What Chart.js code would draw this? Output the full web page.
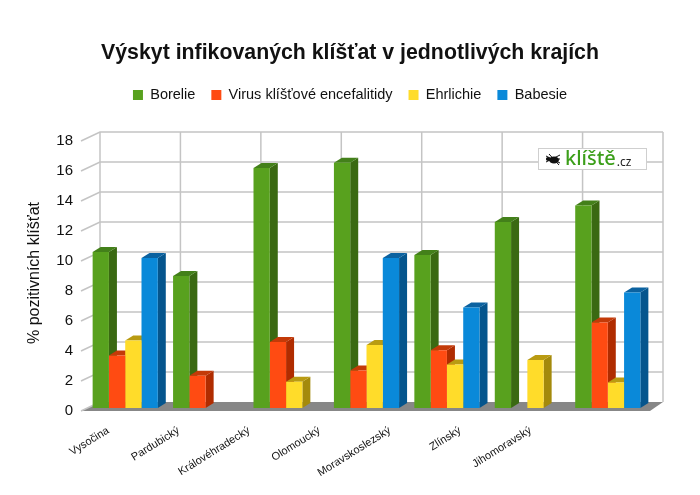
<!DOCTYPE html>
<html>
<head>
<meta charset="utf-8">
<script src="https://cdn.jsdelivr.net/npm/chart.js@4"></script>
<style>
body { margin: 0; background: #fff; }
canvas { display: block; }
</style>
</head>
<body>
<canvas id="graf" width="700" height="495"></canvas>
<script>
// data (% of positive ticks)
var regions = ["Vysočina", "Pardubický", "Královéhradecký", "Olomoucký", "Moravskoslezský", "Zlínský", "Jihomoravský"];
var borelie = [10.4, 8.8, 16.0, 16.35, 10.2, 12.4, 13.5];
var encefalitida = [3.5, 2.15, 4.4, 2.5, 3.85, null, 5.7];
var ehrlichie = [4.5, null, 1.75, 4.2, 2.9, 3.2, 1.7];
var babesie = [10.0, null, null, 10.0, 6.7, null, 7.7];
var seriesNames = ["Borelie", "Virus klíšťové encefalitidy", "Ehrlichie", "Babesie"];

// front, side, top colour of each series
var frontColors = ['#58a11e', '#ff4b12', '#ffdc2a', '#0a89d9'];
var sideColors = ['#3a6912', '#b02c00', '#a48a0c', '#05558d'];
var topColors = ['#43801a', '#c33a08', '#b99b12', '#0b62a0'];

var FONT = "'Liberation Sans', Arial, sans-serif";
var BAR_DX = 8, BAR_DY = 5;     // depth of one bar
var WALL_DX = 15, WALL_DY = 6;  // back wall offset from bar plane
var FRONT_DX = -4, FRONT_DY = 3; // front edge offset from bar plane

var wall3d = {
    id: 'wall3d',
    beforeDatasetsDraw: function(chart) {
        var ctx = chart.ctx;
        var area = chart.chartArea;
        var y = chart.scales.y;
        var y0 = y.getPixelForValue(0);
        var catW = (area.right - area.left) / regions.length;
        ctx.save();

        // floor
        ctx.fillStyle = '#878787';
        ctx.beginPath();
        ctx.moveTo(area.left + FRONT_DX, y0 + FRONT_DY);
        ctx.lineTo(area.right + FRONT_DX + 6, y0 + FRONT_DY);
        ctx.lineTo(area.right + WALL_DX, y0 - WALL_DY);
        ctx.lineTo(area.left + WALL_DX, y0 - WALL_DY);
        ctx.closePath();
        ctx.fill();

        // back wall and side wall grid
        ctx.strokeStyle = '#c4c4c4';
        ctx.lineWidth = 1.5;
        for (var v = 2; v <= 18; v += 2) {
            var py = y.getPixelForValue(v);
            ctx.beginPath();
            ctx.moveTo(area.left + FRONT_DX, py + FRONT_DY);
            ctx.lineTo(area.left + WALL_DX, py - WALL_DY);
            ctx.lineTo(area.right + WALL_DX, py - WALL_DY);
            ctx.stroke();
        }
        ctx.beginPath();
        ctx.moveTo(area.left + FRONT_DX, y0 + FRONT_DY);
        ctx.lineTo(area.left + WALL_DX, y0 - WALL_DY);
        ctx.stroke();
        for (var i = 0; i <= regions.length; i++) {
            var px = area.left + i * catW + WALL_DX;
            ctx.beginPath();
            ctx.moveTo(px, y.getPixelForValue(18) - WALL_DY);
            ctx.lineTo(px, y0 - WALL_DY);
            ctx.stroke();
        }

        // klíště.cz logo
        var lx = area.right - 110, ly = area.top + 10;
        ctx.fillStyle = '#fff';
        ctx.fillRect(lx, ly, 109, 22);
        ctx.strokeStyle = '#cfcfcf';
        ctx.lineWidth = 1;
        ctx.strokeRect(lx + 0.5, ly + 0.5, 108, 21);
        ctx.fillStyle = '#111';
        ctx.strokeStyle = '#111';
        ctx.beginPath();
        ctx.ellipse(lx + 16, ly + 12, 5, 3.5, 0, 0, Math.PI * 2);
        ctx.fill();
        ctx.beginPath();
        ctx.arc(lx + 10, ly + 11, 2, 0, Math.PI * 2);
        ctx.fill();
        for (var k = -1; k <= 1; k++) {
            ctx.beginPath();
            ctx.moveTo(lx + 8, ly + 11 + k * 3);
            ctx.lineTo(lx + 22, ly + 11 - k * 4);
            ctx.stroke();
        }
        ctx.beginPath();
        ctx.moveTo(lx + 11, ly + 6);
        ctx.lineTo(lx + 21, ly + 17);
        ctx.stroke();
        ctx.fillStyle = '#3c9f1a';
        ctx.font = "500 20px 'Noto Sans', sans-serif";
        ctx.textBaseline = 'alphabetic';
        ctx.fillText('klíště', lx + 27, ly + 17);
        var tw = ctx.measureText('klíště').width;
        ctx.fillStyle = '#222';
        ctx.font = "12px 'Noto Sans', sans-serif";
        ctx.fillText('.cz', lx + 27 + tw + 1, ly + 18);

        // side and top faces of the bars, fronts come from Chart.js
        for (var c = 0; c < regions.length; c++) {
            for (var d = 0; d < chart.data.datasets.length; d++) {
                var bar = chart.getDatasetMeta(d).data[c];
                var val = chart.data.datasets[d].data[c];
                if (!bar || val === null) continue;
                var xl = bar.x - bar.width / 2, xr = bar.x + bar.width / 2;
                ctx.fillStyle = sideColors[d];
                ctx.beginPath();
                ctx.moveTo(xr, bar.y);
                ctx.lineTo(xr + BAR_DX, bar.y - BAR_DY);
                ctx.lineTo(xr + BAR_DX, bar.base - BAR_DY);
                ctx.lineTo(xr, bar.base);
                ctx.closePath();
                ctx.fill();
                ctx.fillStyle = topColors[d];
                ctx.beginPath();
                ctx.moveTo(xl, bar.y);
                ctx.lineTo(xl + BAR_DX, bar.y - BAR_DY);
                ctx.lineTo(xr + BAR_DX, bar.y - BAR_DY);
                ctx.lineTo(xr, bar.y);
                ctx.closePath();
                ctx.fill();
            }
        }
        ctx.restore();
    }
};

var allSeries = [borelie, encefalitida, ehrlichie, babesie];
var datasets = [];
for (var s = 0; s < allSeries.length; s++) {
    datasets.push({
        label: seriesNames[s],
        data: allSeries[s],
        backgroundColor: frontColors[s],
        borderWidth: 0,
        categoryPercentage: 0.81,
        barPercentage: 1.0
    });
}

var graf = new Chart(document.getElementById('graf').getContext('2d'), {
    type: 'bar',
    data: { labels: regions, datasets: datasets },
    options: {
        responsive: false,
        animation: false,
        devicePixelRatio: 1,
        plugins: {
            tooltip: { enabled: false },
            title: {
                display: true,
                text: 'Výskyt infikovaných klíšťat v jednotlivých krajích',
                color: '#111',
                font: { family: FONT, size: 21.3, weight: 'bold', lineHeight: 1 },
                padding: { top: 42, bottom: 8.5 }
            },
            legend: {
                display: true,
                labels: {
                    color: '#111',
                    boxWidth: 10,
                    boxHeight: 10,
                    padding: 16,
                    font: { family: FONT, size: 14.5 }
                }
            },
            // empty block that keeps the plot below the legend
            subtitle: {
                display: true,
                text: '',
                weight: 500,
                font: { size: 25.7, lineHeight: 1 },
                padding: 0
            }
        },
        scales: {
            x: { display: false },
            // label axis: the region names sit closer together than the bars
            xl: {
                type: 'category',
                position: 'bottom',
                labels: regions.concat(['']),
                offset: true,
                grid: { display: false, drawTicks: false },
                border: { display: false },
                ticks: {
                    autoSkip: false,
                    color: '#111',
                    font: { family: FONT, size: 11 },
                    minRotation: 32,
                    maxRotation: 32,
                    padding: 16,
                    labelOffset: -12
                },
                afterFit: function(scale) { scale.height = 87; }
            },
            y: {
                min: 0,
                max: 18,
                grid: { display: false, drawTicks: false },
                border: { display: false },
                ticks: {
                    stepSize: 2,
                    color: '#111',
                    font: { family: FONT, size: 15 },
                    padding: 12,
                    labelOffset: 3
                },
                title: {
                    display: true,
                    text: '% pozitivních klíšťat',
                    color: '#111',
                    font: { family: FONT, size: 16 },
                    padding: { top: 25, bottom: 0 }
                },
                afterFit: function(scale) { scale.width = 85; }
            },
            // empty right margin
            yr: {
                position: 'right',
                grid: { display: false, drawTicks: false },
                border: { display: false },
                ticks: { display: false },
                afterFit: function(scale) { scale.width = 52; }
            }
        }
    },
    plugins: [wall3d]
});
</script>
</body>
</html>
